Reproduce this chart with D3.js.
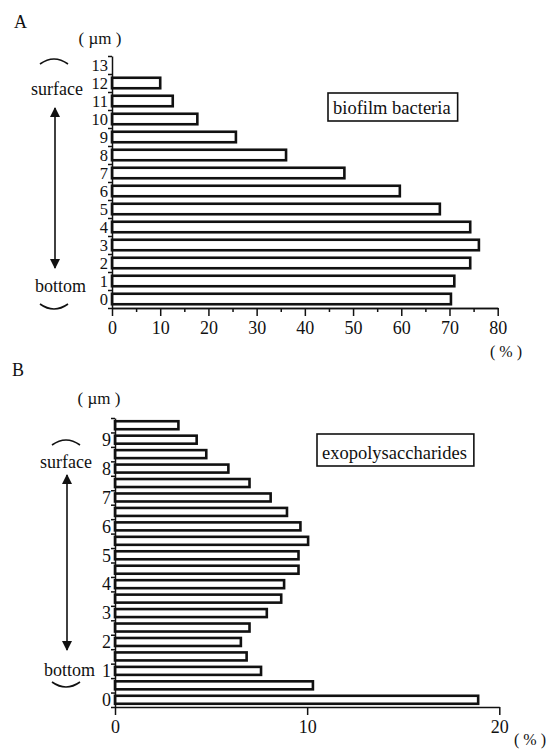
<!DOCTYPE html>
<html>
<head>
<meta charset="utf-8">
<script src="https://cdn.jsdelivr.net/npm/d3@7"></script>
<style>
  body { margin: 0; background: #fff; }
  svg text { font-family: "Liberation Serif", "Times New Roman", serif; fill: #111; }
  .axis path, .axis line { stroke: #111; stroke-width: 1.5; }
  .axis text { font-family: "Liberation Serif", "Times New Roman", serif; font-size: 18px; fill: #111; }
</style>
</head>
<body>
<div class="chart"></div>
<script>
// panel A: biofilm bacteria, depth 0..13 um
var depthA = [0, 1, 2, 3, 4, 5, 6, 7, 8, 9, 10, 11, 12];
var valuesA = [70.3, 71.0, 74.3, 76.1, 74.3, 68.0, 59.7, 48.2, 36.1, 25.7, 17.7, 12.6, 10.0];
var yLabelsA = [0, 1, 2, 3, 4, 5, 6, 7, 8, 9, 10, 11, 12, 13];
var xTicksA = [0, 10, 20, 30, 40, 50, 60, 70, 80];

// panel B: exopolysaccharides, depth 0..9.5 um in 0.5 steps
var depthB = [0, 0.5, 1, 1.5, 2, 2.5, 3, 3.5, 4, 4.5, 5, 5.5, 6, 6.5, 7, 7.5, 8, 8.5, 9, 9.5];
var valuesB = [18.9, 10.3, 7.6, 6.85, 6.55, 7.0, 7.9, 8.65, 8.8, 9.55, 9.55, 10.05, 9.65, 8.95, 8.1, 7.0, 5.9, 4.75, 4.25, 3.3];
var yLabelsB = [0, 1, 2, 3, 4, 5, 6, 7, 8, 9];
var xTicksB = [0, 10, 20];

var svg = d3.select('.chart')
    .append('svg')
    .attr('width', 558)
    .attr('height', 749);

svg.append('defs').append('marker')
    .attr('id', 'head')
    .attr('viewBox', '0 0 10 10')
    .attr('refX', 9).attr('refY', 5)
    .attr('markerWidth', 10).attr('markerHeight', 12)
    .attr('markerUnits', 'userSpaceOnUse')
    .attr('orient', 'auto-start-reverse')
    .append('path')
    .attr('d', 'M0,0 L10,5 L0,10 Z')
    .attr('fill', '#111');

function panel(cfg) {
    var g = svg.append('g');
    var x = d3.scaleLinear().domain(cfg.xDomain).range([cfg.left, cfg.right]);
    var y = d3.scaleLinear().domain(cfg.yDomain).range([cfg.bottom, cfg.top]);

    // bars
    g.selectAll('rect.bar')
        .data(cfg.depth)
        .enter()
        .append('rect')
        .attr('class', 'bar')
        .attr('x', x(0))
        .attr('y', function(d) { return y(d) - cfg.barH / 2; })
        .attr('width', function(d, i) { return x(cfg.values[i]) - x(0); })
        .attr('height', cfg.barH)
        .attr('fill', '#fff')
        .attr('stroke', '#111')
        .attr('stroke-width', 2.6);

    // x axis, minor then major
    if (cfg.minor) {
        g.append('g').attr('class', 'axis')
            .attr('transform', 'translate(0,' + cfg.bottom + ')')
            .call(d3.axisBottom(x).tickValues(cfg.minor).tickSize(4).tickSizeOuter(0).tickFormat(''));
    }
    g.append('g').attr('class', 'axis')
        .attr('transform', 'translate(0,' + cfg.bottom + ')')
        .call(d3.axisBottom(x).tickValues(cfg.xTicks).tickSize(8).tickSizeOuter(0).tickPadding(5));

    // y axis: boundary ticks + labels
    g.append('g').attr('class', 'axis')
        .attr('transform', 'translate(' + cfg.left + ',0)')
        .call(d3.axisLeft(y).tickValues(cfg.bounds).tickSize(4).tickSizeOuter(0).tickFormat(''));
    var ya = g.append('g').attr('class', 'axis')
        .attr('transform', 'translate(' + cfg.left + ',0)')
        .call(d3.axisLeft(y).tickValues(cfg.yLabels).tickSize(0).tickPadding(4).tickFormat(d3.format('d')));
    ya.select('.domain').remove();
    ya.selectAll('text').style('font-size', cfg.yFont);

    // panel letter and units
    g.append('text').attr('x', cfg.letterX).attr('y', cfg.letterY)
        .style('font-size', '18px').text(cfg.letter);
    g.append('text').attr('x', cfg.umX).attr('y', cfg.umY)
        .style('font-size', '17px').attr('text-anchor', 'middle').text('( µm )');
    g.append('text').attr('x', cfg.pctX).attr('y', cfg.pctY)
        .style('font-size', '16px').attr('text-anchor', 'middle').text('( % )');

    // surface / bottom annotation
    g.append('path')
        .attr('d', 'M' + (cfg.arcX - 14) + ',' + (cfg.topArcY + 4) + ' Q' + cfg.arcX + ',' + (cfg.topArcY - 6) + ' ' + (cfg.arcX + 14) + ',' + (cfg.topArcY + 4))
        .attr('fill', 'none').attr('stroke', '#111').attr('stroke-width', 1.6);
    g.append('path')
        .attr('d', 'M' + (cfg.arcX - 14) + ',' + (cfg.botArcY - 4) + ' Q' + cfg.arcX + ',' + (cfg.botArcY + 6) + ' ' + (cfg.arcX + 14) + ',' + (cfg.botArcY - 4))
        .attr('fill', 'none').attr('stroke', '#111').attr('stroke-width', 1.6);
    g.append('text').attr('x', cfg.surfX).attr('y', cfg.surfY)
        .style('font-size', '18px').attr('text-anchor', 'end').text('surface');
    g.append('text').attr('x', cfg.botX).attr('y', cfg.botY)
        .style('font-size', '18px').attr('text-anchor', 'end').text('bottom');
    g.append('line')
        .attr('x1', cfg.arrowX).attr('x2', cfg.arrowX)
        .attr('y1', cfg.arrowTop).attr('y2', cfg.arrowBot)
        .attr('stroke', '#111').attr('stroke-width', 1.6)
        .attr('marker-start', 'url(#head)').attr('marker-end', 'url(#head)');

    // legend box
    var t = g.append('text').attr('x', cfg.legX + 5).attr('y', cfg.legY + cfg.legH - 7)
        .style('font-size', '18.5px').text(cfg.legend);
    var w = t.node().getComputedTextLength();
    g.append('rect').attr('x', cfg.legX).attr('y', cfg.legY)
        .attr('width', w + 12).attr('height', cfg.legH)
        .attr('fill', 'none').attr('stroke', '#111').attr('stroke-width', 1.6);
}

panel({
    depth: depthA, values: valuesA, yLabels: yLabelsA, xTicks: xTicksA,
    minor: d3.range(5, 80, 10),
    bounds: d3.range(-0.5, 14, 1),
    xDomain: [0, 80], left: 112, right: 497.7,
    yDomain: [-0.5, 13.5], bottom: 308, top: 56, barH: 10.5, yFont: '16.5px',
    letter: 'A', letterX: 14, letterY: 28,
    umX: 100, umY: 44, pctX: 506, pctY: 357,
    arcX: 54, topArcY: 60, botArcY: 308,
    surfX: 83, surfY: 95, botX: 86, botY: 292,
    arrowX: 55, arrowTop: 108, arrowBot: 268,
    legend: 'biofilm bacteria', legX: 328, legY: 93, legH: 28
});

panel({
    depth: depthB, values: valuesB, yLabels: yLabelsB, xTicks: xTicksB,
    minor: null,
    bounds: d3.range(-0.25, 9.8, 0.5),
    xDomain: [0, 20], left: 115, right: 499.3,
    yDomain: [-0.25, 9.75], bottom: 707, top: 418, barH: 8, yFont: '18px',
    letter: 'B', letterX: 12, letterY: 376,
    umX: 99, umY: 404, pctX: 530, pctY: 745,
    arcX: 66, topArcY: 441, botArcY: 686,
    surfX: 92, surfY: 468, botX: 95, botY: 676,
    arrowX: 67, arrowTop: 475, arrowBot: 650,
    legend: 'exopolysaccharides', legX: 317, legY: 434, legH: 32
});
</script>
</body>
</html>
